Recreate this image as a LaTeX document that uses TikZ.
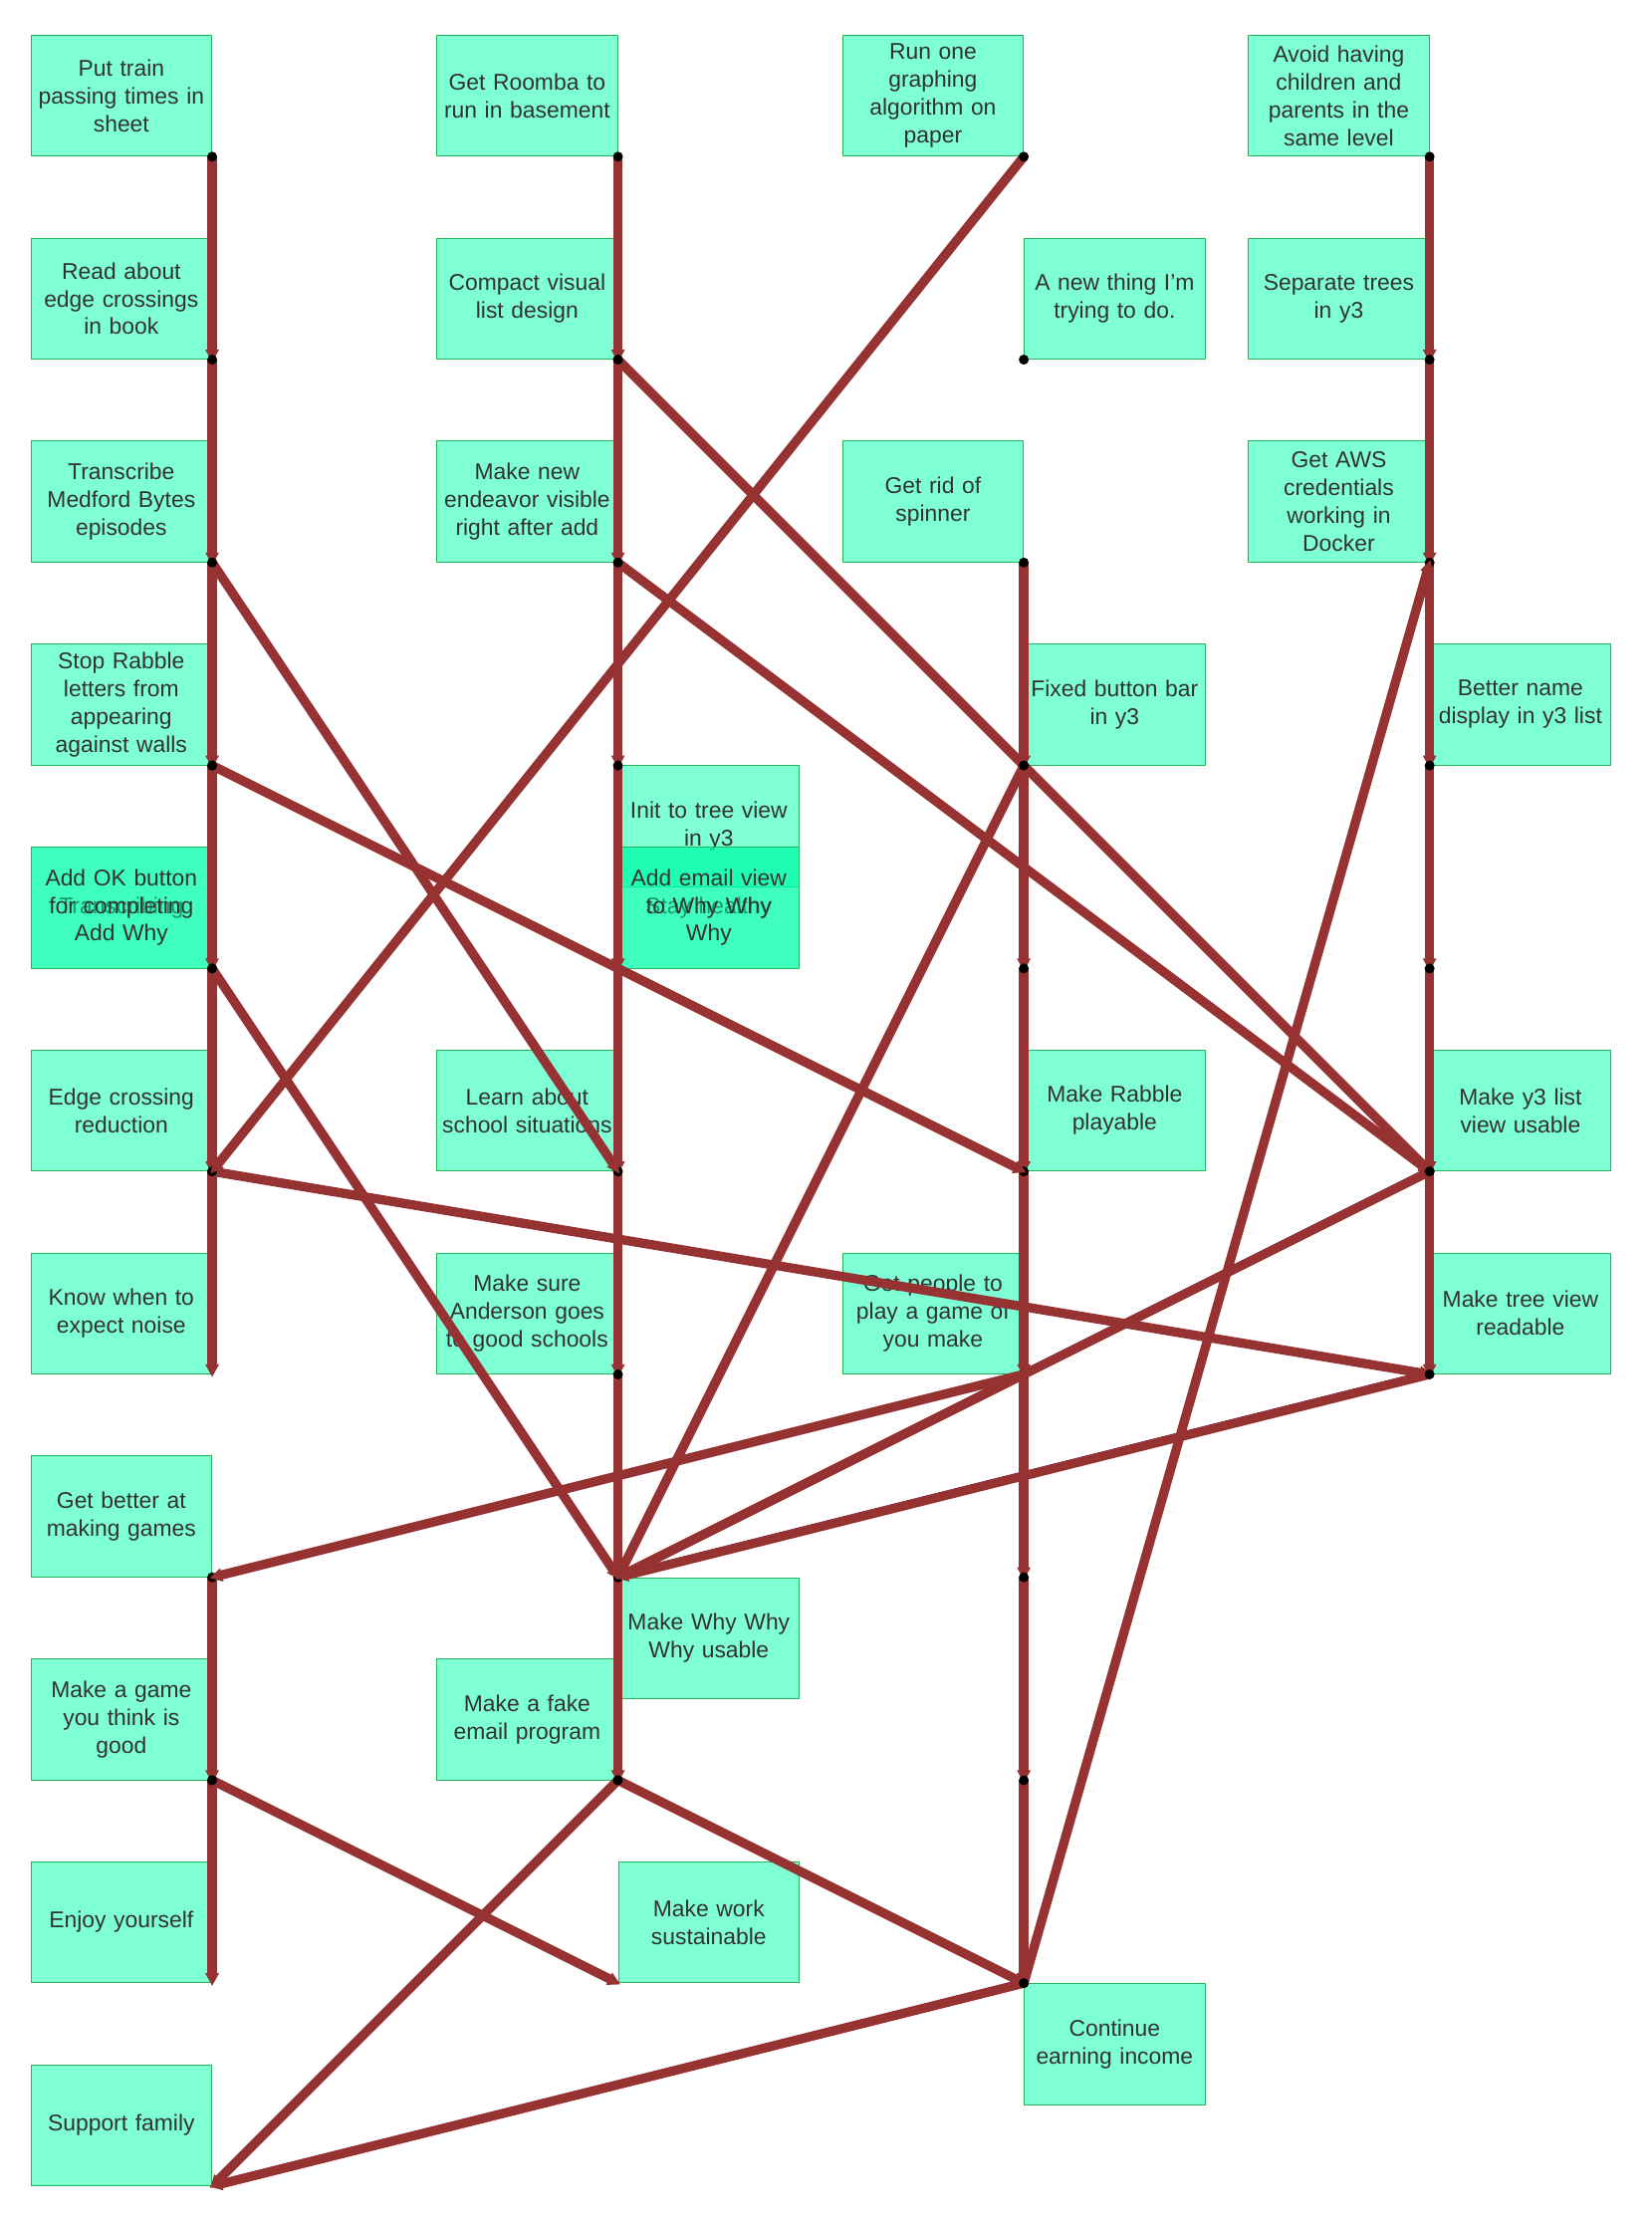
\documentclass[tikz,border=0pt]{standalone}
\usepackage{fontspec}
\setmainfont{Liberation Sans}
\usetikzlibrary{arrows.meta}
\definecolor{boxfill}{RGB}{0,255,170}
\definecolor{boxline}{RGB}{40,180,90}
\definecolor{edgecol}{RGB}{150,50,50}
\definecolor{txtcol}{RGB}{50,50,50}
\tikzset{
  goalbox/.style={draw=boxline, line width=0.6pt, fill=boxfill, fill opacity=0.5, text opacity=1,
    text=txtcol, minimum width=127pt, minimum height=85pt, text width=125pt, align=center,
    inner sep=1pt, font=\fontsize{16}{19.5}\selectfont},
  link/.style={draw=edgecol, line width=6.5pt, -{Stealth[length=9pt,width=9pt,inset=0pt]}, shorten >=-2pt},
  pin/.style={circle, fill=black, inner sep=0pt, minimum size=7pt}
}
\begin{document}
\begin{tikzpicture}[x=1pt, y=-1pt]
  \useasboundingbox (0,0) rectangle (1160,1563);
  % grid points
  \foreach \c in {0,...,3} {
    \foreach \r in {0,...,10} {
      \coordinate (p\c\r) at ({149+285*\c},{110+142.5*\r});
    }
  }

  %----- boxes -----
  \foreach \c/\r/\side/\txt in {
      0/0/L/{Put train\\ passing times in\\ sheet},
      0/1/L/{Read about\\ edge crossings\\ in book},
      0/2/L/{Transcribe\\ Medford Bytes\\ episodes},
      0/3/L/{Stop Rabble\\ letters from\\ appearing\\ against walls},
      0/4/L/{Transcribing},
      0/4/L/{Add OK button\\ for completing\\ Add Why},
      0/5/L/{Edge crossing\\ reduction},
      0/6/L/{Know when to\\ expect noise},
      0/7/L/{Get better at\\ making games},
      0/8/L/{Make a game\\ you think is\\ good},
      0/9/L/{Enjoy yourself},
      0/10/L/{Support family},
      1/0/L/{Get Roomba to\\ run in basement},
      1/1/L/{Compact visual\\ list design},
      1/2/L/{Make new\\ endeavor visible\\ right after add},
      1/3.6/R/{Init to tree view\\ in y3},
      1/4/R/{Stay healthy},
      1/4/R/{Add email view\\ to Why Why\\ Why},
      1/5/L/{Learn about\\ school situations},
      1/6/L/{Make sure\\ Anderson goes\\ to good schools},
      1/7.6/R/{Make Why Why\\ Why usable},
      1/8/L/{Make a fake\\ email program},
      1/9/R/{Make work\\ sustainable},
      2/0/L/{Run one\\ graphing\\ algorithm on\\ paper},
      2/1/R/{A new thing I'm\\ trying to do.},
      2/2/L/{Get rid of\\ spinner},
      2/3/R/{Fixed button bar\\ in y3},
      2/5/R/{Make Rabble\\ playable},
      2/6/L/{Get people to\\ play a game of\\ you make},
      2/9.6/R/{Continue\\ earning income},
      3/0/L/{Avoid having\\ children and\\ parents in the\\ same level},
      3/1/L/{Separate trees\\ in y3},
      3/2/L/{Get AWS\\ credentials\\ working in\\ Docker},
      3/3/R/{Better name\\ display in y3 list},
      3/5/R/{Make y3 list\\ view usable},
      3/6/R/{Make tree view\\ readable}} {
    \if\side L
      \node[goalbox, anchor=south east] (b\c-\r) at ({149+285*\c},{110+142.5*\r}) {\txt};
    \else
      \node[goalbox, anchor=south west] (b\c-\r) at ({149+285*\c},{110+142.5*\r}) {\txt};
    \fi
  }

  %----- links -----
  \foreach \a/\b in {p00/p01, p01/p02, p02/p03, p03/p04, p04/p05, p05/p06,
      p07/p08, p08/p09,
      p10/p11, p11/p12, p12/p13, p13/p14, p14/p15, p15/p16, p16/p17, p17/p18,
      p22/p23, p23/p24, p24/p25, p25/p26, p26/p27, p27/p28, p28/p29,
      p30/p31, p31/p32, p32/p33, p33/p34, p34/p35, p35/p36,
      p02/p15, p03/p25, p04/p17, p05/p36, p20/p05,
      p11/p35, p12/p35, p18/p010, p18/p29, p08/p19,
      p23/p17, p26/p07, p26/p17, p35/p17, p36/p17,
      p29/p32, p29/p010} {
    \draw[link] (\a) -- (\b);
    \node[pin] at (\a) {};
  }
  \node[pin] at (p21) {};
\end{tikzpicture}
\end{document}
